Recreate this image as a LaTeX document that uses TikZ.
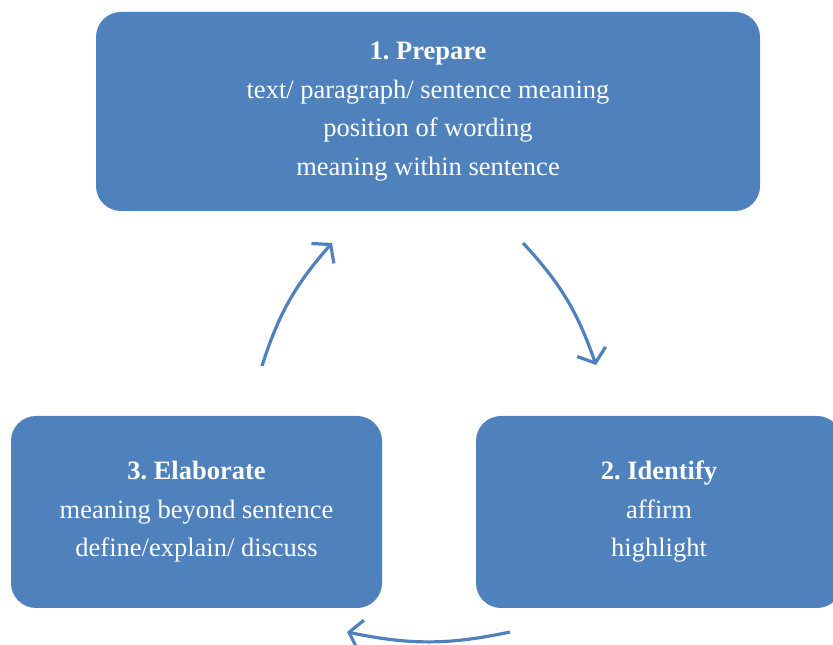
\documentclass[tikz,border=0pt]{standalone}
\usepackage{fontspec}
\setmainfont{Liberation Serif}
\usepackage{tikz}
\usetikzlibrary{arrows.meta,bending}
\frenchspacing

\definecolor{stepblue}{HTML}{4F81BD}
\tikzset{
  stepbox/.style={fill=stepblue,rounded corners=25pt,text=white,align=center,
    inner sep=0pt,font=\fontsize{26.5}{38.5}\selectfont},
  cyclearrow/.style={draw=stepblue,line width=3.2pt,
    -{Straight Barb[length=12pt,width=30pt,line width=3.2pt]}}
}

\begin{document}
\begin{tikzpicture}[x=1pt,y=1pt]
  \useasboundingbox (0,0) rectangle (833,645);
  \node[stepbox,minimum width=664pt,minimum height=199pt] (prepare) at (428,533.5)
    {\textbf{1. Prepare}\\text/ paragraph/ sentence meaning\\position of wording\\meaning within sentence};
  \node[stepbox,minimum width=366pt,minimum height=192pt] (identify) at (659,133)
    {\textbf{2. Identify}\\affirm\\highlight};
  \node[stepbox,minimum width=371pt,minimum height=192pt] (elaborate) at (196.5,133)
    {\textbf{3. Elaborate}\\meaning beyond sentence\\define/explain/ discuss};
  \coordinate (a1s) at (262,279);
  \coordinate (a1e) at (332,402);
  \coordinate (a2s) at (523,402);
  \coordinate (a2e) at (596,280);
  \coordinate (a3s) at (510,13);
  \coordinate (a3e) at (347,13);
  \draw[cyclearrow] (a1s) to[bend left=12] (a1e);
  \draw[cyclearrow] (a2s) to[bend left=12] (a2e);
  \draw[cyclearrow] (a3s) to[bend left=12] (a3e);
\end{tikzpicture}
\end{document}
